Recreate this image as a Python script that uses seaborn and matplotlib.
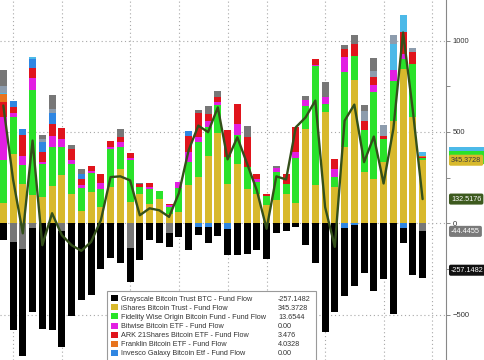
import numpy as np
import seaborn as sns
import matplotlib.pyplot as plt
from matplotlib.patches import Patch, Rectangle

# ---- data (daily fund flows, $m) ----
days = list(range(44))

grayscale = [-91, -482, -586, -459, -577, -586, -632, -510, -422, -391, -251, -191, -218, -187,
             -200, -91, -109, -73, -73, -146, -45, -91, -69, -145, -173, -169, -146, -197,
             -55, -40, -22, -118, -218, -595, -488, -369, -333, -273, -369, -306, -497, -82,
             -282, -257.1482]
ishares = [110, 380, 213, 153, 144, 202, 262, 162, 67, 171, 89, 198, 298, 116,
           158, 107, 135, 53, 62, 207, 253, 371, 493, 217, 326, 189, 162, 98,
           126, 162, 111, 517, 210, 608, 198, 417, 784, 280, 244, 335, 562, 845,
           581, 345.3728]
fidelity = [235, 200, 104, 577, 178, 218, 158, 160, 127, 104, 100, 209, 118, 231,
            40, 78, 40, 36, 133, 127, 191, 158, 157, 146, 155, 118, 64, 49,
            155, 55, 248, 127, 650, 46, 55, 410, 133, 231, 473, 127, 218, 55,
            291, 13.6544]
bitwise = [235, 22, 49, 66, 13, 60, 42, 22, 18, 10, 31, 13, 27, 11,
           0, 13, 0, 12, 31, 55, 27, 33, 13, 0, 64, 0, 15, 0,
           20, 0, 31, 31, 8, 36, 45, 86, 0, 0, 42, 0, 58, 27,
           0, 0]
ark = [82, 33, 120, 55, 55, 64, 60, 64, 31, 26, 51, 29, 27, 25,
       16, 24, 0, 6, 0, 91, 131, 36, 31, 146, 106, 164, 30, 15,
       0, 55, 140, 0, 30, 0, 55, 42, 67, 51, 40, 18, 0, 118,
       64, 3.476]
franklin = [45, 0, 0, 0, 0, 0, 0, 0, 0, 0, 0, 0, 0, 0,
            0, 0, 0, 0, 0, 0, 0, 0, 0, 0, 0, 0, 0, 0,
            0, 0, 0, 0, 0, 0, 0, 0, 0, 0, 0, 0, 0, 0,
            0, 4.0328]
invesco = [0, 36, 31, 50, 55, 58, 0, 0, 27, 0, 0, 0, 0, 0,
           0, 0, 0, 0, 0, 27, -18, -18, 0, -30, 0, 0, 0, 0,
           0, 0, 0, 0, 0, 0, 0, -27, -9, 0, 0, 0, 0, -27,
           0, 0]
vaneck = [9, 0, 0, 12, 0, 0, 0, 0, 0, 0, 0, 0, 0, 0,
          0, 0, 0, 0, 0, 0, 0, 0, 0, 0, 0, 0, 0, 0,
          0, 0, 0, 0, 0, 0, 0, 0, 0, 0, 0, 0, 142, 96,
          0, 22]
valkyrie = [36, 0, 0, 0, 18, 24, 0, 0, 0, 0, 0, 0, 0, 0,
            0, 0, 0, 0, 0, 0, 0, 0, 0, 0, 0, 0, 0, 0,
            0, 0, 0, 0, 0, 0, 0, 0, 0, 55, 36, 60, 51, 0,
            24, 0]
wisdomtree = [86, -104, -142, -27, 18, 76, -45, 18, 27, 0, 0, 0, 49, -137,
              6, 0, 0, -55, 0, 0, 20, 45, 29, 0, 0, 64, 0, 0,
              15, 0, 0, 24, 0, 82, 0, 24, 47, 31, 69, 0, 0, 0,
              0, -44.4455]

net_flow = [645, 240, -55, 453, -120, 55, -65, -120, -151, -102, 16, 253, 257, 235,
            44, 82, 71, 35, 164, 399, 535, 499, 635, 350, 471, 327, 180, -30,
            257, 240, 526, 580, 672, 89, -129, 562, 650, 335, 475, 218, 517, 1045,
            617, 132.5176]

legend_names = ['Grayscale Bitcoin Trust BTC - Fund Flow',
                'iShares Bitcoin Trust - Fund Flow',
                'Fidelity Wise Origin Bitcoin Fund - Fund Flow',
                'Bitwise Bitcoin ETF - Fund Flow',
                'ARK 21Shares Bitcoin ETF - Fund Flow',
                'Franklin Bitcoin ETF - Fund Flow',
                'Invesco Galaxy Bitcoin Etf - Fund Flow']
legend_values = ['-257.1482', '345.3728', '13.6544', '0.00', '3.476', '4.0328', '0.00']

grid_days = [1, 6, 13, 18, 23, 27, 33, 39, 44]

# ---- colours ----
c_black = '#000000'
c_yellow = '#d8b92c'
c_green = '#2ae22a'
c_magenta = '#e21fe2'
c_red = '#e0141c'
c_orange = '#e8741e'
c_blue = '#2f86e2'
c_cyan = '#4cb9e8'
c_steel = '#8d9cad'
c_gray = '#777777'
c_line = '#34501a'

sns.set_style('white')
plt.rcParams['font.family'] = ['Liberation Sans', 'DejaVu Sans']

fig = plt.figure(figsize=(4.85, 3.6), dpi=100)
ax = fig.add_axes([0, 0, 446 / 485, 1])

# positive parts stack upward, negative parts stack downward (Grayscale last)
pos_order = [(ishares, c_yellow), (fidelity, c_green), (bitwise, c_magenta), (ark, c_red),
             (franklin, c_orange), (invesco, c_blue), (vaneck, c_cyan),
             (valkyrie, c_steel), (wisdomtree, c_gray)]
neg_order = [(wisdomtree, c_gray), (invesco, c_blue), (grayscale, c_black)]

base_up = np.zeros(len(days))
for vals, col in pos_order:
    v = np.clip(np.array(vals, float), 0, None)
    sns.barplot(x=days, y=v, bottom=base_up, color=col, saturation=1, width=0.72,
                errorbar=None, linewidth=0, zorder=2, ax=ax)
    base_up += v

base_dn = np.zeros(len(days))
for vals, col in neg_order:
    v = np.clip(np.array(vals, float), None, 0)
    sns.barplot(x=days, y=v, bottom=base_dn, color=col, saturation=1, width=0.72,
                errorbar=None, linewidth=0, zorder=2, ax=ax)
    base_dn += v

sns.lineplot(x=days, y=net_flow, color=c_line, linewidth=1.7, zorder=4, ax=ax)

ax.set_xlim(-0.34, 45.4)
ax.set_ylim(-749, 1223)
ax.set_xlabel('')
ax.set_ylabel('')
ax.set_xticks([])

# grid
for d in grid_days:
    ax.axvline(d, color='#a8a8a8', linestyle=(0, (1, 2.5)), linewidth=0.8, zorder=1)
ax.set_yticks([-500, 0, 500, 1000])
ax.set_yticks([-250, 250, 750], minor=True)
ax.yaxis.grid(True, which='major', color='#a8a8a8', linestyle=(0, (1, 2.5)), linewidth=0.8)
ax.set_axisbelow(True)

ax.yaxis.tick_right()
ax.tick_params(axis='y', which='both', direction='out', length=3, width=0.7,
               color='#888888', labelsize=5.5, labelcolor='#333333', pad=2)
for s in ['left', 'top', 'bottom']:
    ax.spines[s].set_visible(False)
ax.spines['right'].set_color('#888888')
ax.spines['right'].set_linewidth(0.8)

# right-hand value tags
px_per_unit = 360 / (1223 + 749)
yaxis_tr = ax.get_yaxis_transform()
for off_px, col in [(13, c_cyan), (9, c_green)]:
    ax.add_patch(Rectangle((1.006, ishares[-1] - 20), 0.2, 20 + off_px / px_per_unit,
                           transform=yaxis_tr, facecolor=col, edgecolor='none',
                           clip_on=False, zorder=5))

tags = [(ishares[-1], c_yellow, '#3a3a3a'),
        (net_flow[-1], '#3d5a1e', 'white'),
        (wisdomtree[-1], '#7a7a7a', 'white'),
        (grayscale[-1], '#111111', 'white')]
for val, fc, tc in tags:
    ax.annotate(f'{val:.4f}', xy=(1, val), xycoords=yaxis_tr,
                xytext=(5, 0), textcoords='offset pixels', ha='left', va='center',
                fontsize=5.2, color=tc, zorder=6, annotation_clip=False,
                bbox=dict(boxstyle='round,pad=0.28,rounding_size=0.25', fc=fc, ec='none'))

# legend
handles = [Patch(facecolor=c, edgecolor='none') for c in
           [c_black, c_yellow, c_green, c_magenta, c_red, c_orange, c_blue]]
leg = ax.legend(handles, legend_names, loc='upper left',
                bbox_to_anchor=(107 / 485, 0, (316 - 107) / 485, 1 - 291 / 360),
                bbox_transform=fig.transFigure, mode='expand', fontsize=5.2,
                handlelength=0.9, handleheight=0.9, handletextpad=0.5,
                labelspacing=0.22, borderpad=0.6, borderaxespad=0,
                frameon=True, fancybox=False, framealpha=1, edgecolor='#9a9a9a')
leg.get_frame().set_linewidth(0.8)
leg.set_zorder(7)
for t in leg.get_texts():
    t.set_color('#333333')

fig.canvas.draw()
for t, val in zip(leg.get_texts(), legend_values):
    bb = t.get_window_extent()
    fig.text(278 / 485, (bb.y0 + bb.y1) / 2 / fig.bbox.height, val, ha='left', va='center',
             fontsize=5.2, color='#333333', zorder=8)

fig.savefig('out.png', dpi=100, facecolor='white')
